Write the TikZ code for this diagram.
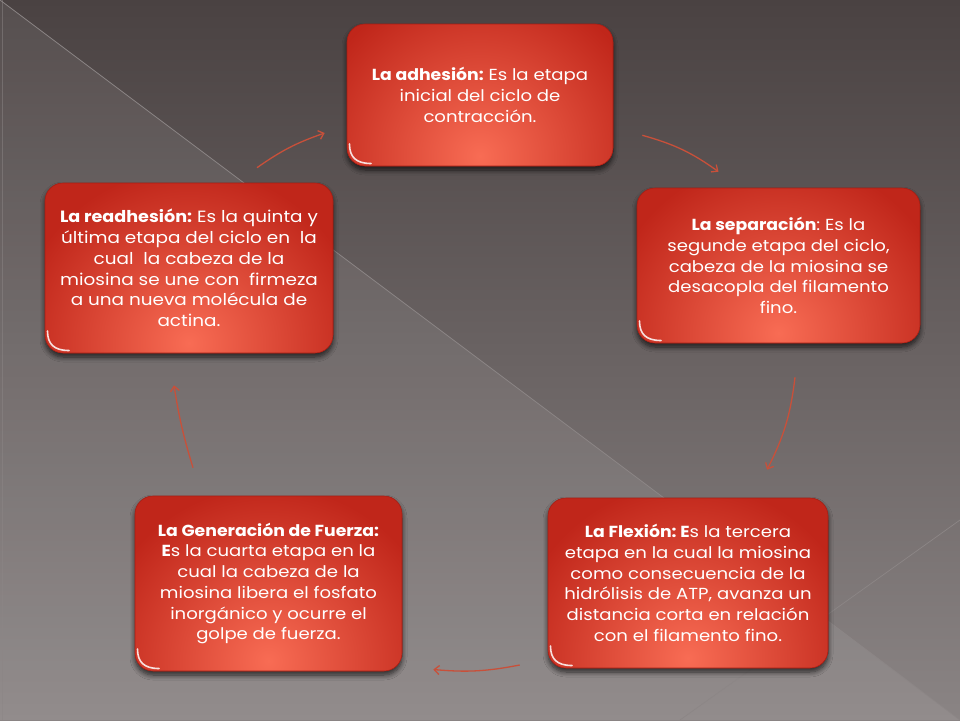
\documentclass[tikz,border=0pt]{standalone}
\usepackage{fontspec}
\setmainfont{Poppins}[FakeStretch=1.13, BoldFeatures={FakeStretch=1.08}]
\frenchspacing
\usetikzlibrary{arrows.meta,shadows.blur,calc}
\definecolor{bgtop}{HTML}{4A4242}
\definecolor{bgbot}{HTML}{8A8484}
\definecolor{bgline}{HTML}{8C8686}
\definecolor{boxdark}{HTML}{C0261A}
\definecolor{boxlight}{HTML}{F86C54}
\definecolor{boxedge}{HTML}{A81E14}
\definecolor{arrowc}{HTML}{C8503A}
\tikzset{
  stage/.style={rectangle, rounded corners=18pt, fill=boxdark, draw=boxedge, line width=0.6pt,
    inner sep=0pt, text=white, align=center, font=\fontsize{16}{20.7}\selectfont,
    blur shadow={shadow xshift=0pt, shadow yshift=-4pt, shadow opacity=70, shadow blur steps=8, shadow blur radius=5pt},
    path picture={
      \shade[inner color=boxlight, outer color=boxdark]
        ([yshift=10pt]path picture bounding box.south) circle (175pt);
      \draw[hilite] ([xshift=2.5pt,yshift=22pt]path picture bounding box.south west)
        .. controls ([xshift=2.5pt,yshift=9pt]path picture bounding box.south west)
           and ([xshift=9pt,yshift=2.5pt]path picture bounding box.south west)
        .. ([xshift=24pt,yshift=2.5pt]path picture bounding box.south west);
    }},
  cyc/.style={draw=arrowc, line width=1.3pt, -{Straight Barb[length=5pt,width=9pt]}},
  hilite/.style={draw=white, line width=1.6pt, opacity=0.85, line cap=round}
}
\begin{document}
\begin{tikzpicture}[x=1pt,y=-1pt]
% background
\shade[top color=bgtop, bottom color=bgbot] (0,0) rectangle (960,720);
\fill[white, opacity=0.07] (0,0) -- (960,720) -- (0,720) -- cycle;
\useasboundingbox (0,0) rectangle (960,720);
\draw[bgline, line width=0.7pt] (0,0) -- (960,720);
\draw[bgline, line width=0.7pt] (680,720) -- (960,520);
\draw[bgline, opacity=0.5, line width=0.5pt] (2,0) -- (2,720);

% stages
\node[stage, minimum width=266pt, minimum height=142pt] (adh) at (480,95)
  {\textbf{La adhesión:} Es la etapa\\inicial del ciclo de\\contracción.};
\node[stage, minimum width=283pt, minimum height=155pt] (sep) at (778.5,265.5)
  {\textbf{La separación}: Es la\\segunde etapa del ciclo,\\cabeza de la miosina se\\desacopla del filamento\\fino.};
\node[stage, minimum width=280pt, minimum height=170pt] (flex) at (688,583)
  {\textbf{La Flexión: E}s la tercera\\etapa en la cual la miosina\\como consecuencia de la\\hidrólisis de ATP, avanza un\\distancia corta en relación\\con el filamento fino.};
\node[stage, minimum width=267pt, minimum height=175pt] (gen) at (268.5,583.5)
  {\textbf{La Generación de Fuerza:}\\\textbf{E}s la cuarta etapa en la\\cual la cabeza de la\\miosina libera el fosfato\\inorgánico y ocurre el\\golpe de fuerza.};
\node[stage, minimum width=288pt, minimum height=170pt, font=\fontsize{16.3}{20.7}\selectfont] (readh) at (189,268)
  {\textbf{La readhesión:} Es la quinta y\\última etapa del ciclo en\ \ la\\cual\ \ la cabeza de la\\miosina se une con\ \ firmeza\\a una nueva molécula de\\actina.};

% cycle arrows
\draw[cyc] ([xshift=29pt,yshift=31pt]adh.south east) to[bend left=10] ([xshift=-60pt,yshift=16pt]sep.north);
\draw[cyc] ([xshift=16.5pt,yshift=-34pt]sep.south) to[bend left=10] ([xshift=79pt,yshift=28pt]flex.north);
\draw[cyc] ([xshift=-28pt,yshift=-82pt]flex.west) to[bend left=8] ([xshift=31pt,yshift=-86pt]gen.east);
\draw[cyc] ([xshift=-75.5pt,yshift=28pt]gen.north) to[bend left=4] ([xshift=-15pt,yshift=-32pt]readh.south);
\draw[cyc] ([xshift=68pt,yshift=15pt]readh.north) to[bend left=8] ([xshift=-22pt,yshift=-38pt]adh.west);
\end{tikzpicture}
\end{document}
